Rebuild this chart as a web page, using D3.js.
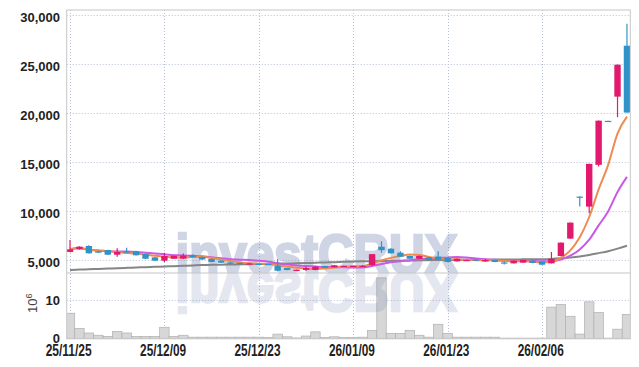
<!DOCTYPE html>
<html><head><meta charset="utf-8">
<script src="https://cdn.jsdelivr.net/npm/d3@7"></script>
<style>body{margin:0;background:#fff}svg{display:block}</style>
</head><body><svg id="c" width="639" height="367"></svg>
<script>
const dates = ["25/11/25","25/11/26","25/11/27","25/11/28","25/12/01","25/12/02","25/12/03","25/12/04","25/12/05","25/12/08",
"25/12/09","25/12/10","25/12/11","25/12/12","25/12/15","25/12/16","25/12/17","25/12/18","25/12/19","25/12/22",
"25/12/23","25/12/24","25/12/26","25/12/29","25/12/30","26/01/02","26/01/05","26/01/06","26/01/07","26/01/08",
"26/01/09","26/01/12","26/01/13","26/01/14","26/01/15","26/01/16","26/01/19","26/01/20","26/01/21","26/01/22",
"26/01/23","26/01/26","26/01/27","26/01/28","26/01/29","26/01/30","26/02/02","26/02/03","26/02/04","26/02/05",
"26/02/06","26/02/09","26/02/10","26/02/11","26/02/12","26/02/13","26/02/19","26/02/20","26/02/23","26/02/24"];
const opens = [5820,6090,6430,5890,6020,5540,5880,5890,5610,5270,
4930,5130,5150,5500,5300,5100,4950,4750,4700,4580,
4620,4600,4400,4180,3970,3990,3990,4390,4250,4300,
4320,4350,4460,6350,6150,5750,5410,5130,5270,5350,
5200,4860,4950,5050,4850,5000,4750,4660,4730,4930,
4860,4660,5410,7180,11460,10440,14700,19180,21650,26840];
const highs = [7050,6400,6500,5950,6050,6200,6260,5950,5650,5300,
5745,5450,5650,5550,5350,5150,4980,4800,4750,4700,
4650,4620,5130,4200,4020,4300,4350,4420,4480,4430,
4420,4500,5620,6900,6200,5900,5450,5450,5300,5880,
5250,5150,5050,5100,5100,5020,4850,4950,5020,4950,
4880,5816,6790,8830,11480,14820,19220,19200,24920,29080];
const lows = [5800,6050,5650,5720,5500,5340,5740,5450,5100,4900,
4800,5100,5100,5250,5000,4780,4700,4600,4580,4550,
4520,4520,3850,3950,3950,3900,3950,4180,4230,4280,
4300,4300,4440,5750,5650,5300,5100,5100,4980,4980,
4780,4840,4900,4900,4820,4780,4550,4640,4710,4680,
4480,4640,5390,7160,10440,9760,14520,19100,19560,20000];
const closes = [6090,6360,5680,5750,5540,5820,5760,5480,5130,4930,
5410,5410,5450,5300,5050,4800,4720,4620,4600,4650,
4560,4560,3910,3980,4000,4180,4320,4200,4460,4400,
4400,4400,5600,6000,5680,5340,5130,5410,5000,5050,
4800,5130,5000,4950,5000,4800,4700,4930,5000,4700,
4520,5130,6770,8810,11400,14800,19200,19130,24900,20030];
const volumes = [6.6,2.6,1.4,0.8,0.5,1.8,1.4,0.5,0.5,0.5,
2.9,0.5,0.8,0.3,0.3,0.3,0.3,0.3,0.3,0.3,
0.3,0.2,1.1,0.4,0.1,0.6,1.7,0.2,0.4,0.2,
0.2,0.3,2.1,15.9,1.3,1.3,2.1,0.8,0.3,3.7,
1.3,0.3,0.3,0.3,0.3,0.3,0.05,0.05,0.05,0.05,
0.05,8.2,8.9,5.8,1.1,9.6,6.8,0.05,2.4,6.3];
const ma60 = [3980,4020,4055,4090,4125,4160,4200,4235,4270,4305,
4340,4375,4410,4450,4490,4505,4525,4540,4560,4575,
4595,4610,4625,4645,4660,4690,4720,4750,4780,4810,
4840,4870,4885,4900,4915,4930,4950,4965,4985,5000,
5005,5010,5020,5025,5035,5040,5050,5055,5065,5070,
5080,5110,5170,5250,5360,5510,5700,5900,6160,6460];
const priceTicks = [5000,10000,15000,20000,25000,30000];
const volumeTicks = [0,10];
const dateTicks = ["25/11/25","25/12/09","25/12/23","26/01/09","26/01/23","26/02/06"];

const L = 66.7, R = 630.3, T = 10, M = 273, B = 338.8;
const svg = d3.select("#c");
const step = 9.44;
const x = d3.scaleBand().domain(dates).range([70 - step/2, 70 - step/2 + step*dates.length]).padding(0);
const cx = d => x(d) + x.bandwidth()/2;
const y = d3.scaleLinear().domain([5000,30000]).range([260,14.7]);
const yv = d3.scaleLinear().domain([0,10]).range([338.3,300.3]);

function sma(arr, n){ return arr.map((v,i)=>{ const s = arr.slice(Math.max(0,i-n+1), i+1); return d3.mean(s); }); }
const ma5 = sma(closes,5), ma10 = sma(closes,10);

const defs = svg.append("defs");
defs.append("clipPath").attr("id","cp").append("rect").attr("x",L).attr("y",T).attr("width",R-L).attr("height",M-T);
defs.append("clipPath").attr("id","cv").append("rect").attr("x",L).attr("y",M).attr("width",R-L).attr("height",B-M);

const gridColor = "#b7c1d6";
const grid = svg.append("g").attr("stroke",gridColor).attr("stroke-width",1).attr("stroke-dasharray","1,2");
grid.selectAll("line.v").data(dateTicks).join("line")
  .attr("x1",d=>Math.round(cx(d))+0.5).attr("x2",d=>Math.round(cx(d))+0.5).attr("y1",T).attr("y2",B);
grid.selectAll("line.h").data(priceTicks).join("line")
  .attr("x1",L).attr("x2",R).attr("y1",d=>Math.round(y(d))+0.5).attr("y2",d=>Math.round(y(d))+0.5);
grid.selectAll("line.hv").data(volumeTicks.filter(d=>d>0)).join("line")
  .attr("x1",L).attr("x2",R).attr("y1",d=>Math.round(yv(d))+0.5).attr("y2",d=>Math.round(yv(d))+0.5);

// volume bars
svg.append("g").attr("clip-path","url(#cv)").selectAll("rect").data(dates).join("rect")
  .attr("x",d=>x(d)).attr("width",x.bandwidth())
  .attr("y",(d,i)=>yv(volumes[i])).attr("height",(d,i)=>yv(0)-yv(volumes[i]))
  .attr("fill","#d7d7d7").attr("stroke","#b0b0b0").attr("stroke-width",0.7);

// watermark (heavy, semi-transparent, with mirrored reflection)
const wmFont = "'Liberation Sans', Arial, sans-serif";
function wm(parent, opacity, transform){
  parent.append("g").attr("opacity",opacity).append("text")
    .attr("transform",transform)
    .attr("x",175.5).attr("y",273).attr("font-family",wmFont).attr("font-weight","bold").attr("font-size",55)
    .attr("textLength",282).attr("lengthAdjust","spacingAndGlyphs")
    .attr("fill","rgb(98,118,165)").attr("stroke","rgb(98,118,165)").attr("stroke-width",2.6)
    .attr("stroke-linejoin","miter").text("investCRUX");
}
wm(svg.append("g").attr("clip-path","url(#cp)"), 0.3, null);
wm(svg.append("g").attr("clip-path","url(#cv)"), 0.17, "translate(0,546) scale(1,-1)");

// MA lines
const pane = svg.append("g").attr("clip-path","url(#cp)");
const line = d3.line().x((d,i)=>cx(dates[i])).y(d=>y(d)).curve(d3.curveMonotoneX);
pane.append("path").attr("d",line(ma60)).attr("fill","none").attr("stroke","#858585").attr("stroke-width",2);
pane.append("path").attr("d",line(ma10)).attr("fill","none").attr("stroke","#c95ae6").attr("stroke-width",2);
pane.append("path").attr("d",line(ma5)).attr("fill","none").attr("stroke","#ef8a50").attr("stroke-width",2);

// candles
const up = "#e2196e", down = "#2f93c7";
const cg = pane.append("g");
const bw = 6.4;
dates.forEach((d,i)=>{
  const col = closes[i] >= opens[i] ? up : down;
  const xc = cx(d);
  cg.append("line").attr("x1",xc).attr("x2",xc).attr("y1",y(highs[i])).attr("y2",y(lows[i]))
    .attr("stroke",col).attr("stroke-width",1.2);
  const top = y(Math.max(opens[i],closes[i])), bot = y(Math.min(opens[i],closes[i]));
  cg.append("rect").attr("x",xc-bw/2).attr("width",bw).attr("y",top).attr("height",Math.max(1.2,bot-top)).attr("fill",col);
});

// frame
svg.append("rect").attr("x",L).attr("y",T).attr("width",R-L).attr("height",B-T)
  .attr("fill","none").attr("stroke","#c6c6c6").attr("stroke-width",1);
svg.append("line").attr("x1",L).attr("x2",R).attr("y1",M).attr("y2",M).attr("stroke","#c6c6c6").attr("stroke-width",1.2);

// axes
const lblFont = "'Liberation Sans', Arial, sans-serif";
const ya = svg.append("g").attr("transform",`translate(${L},0)`)
  .call(d3.axisLeft(y).tickValues(priceTicks).tickFormat(d3.format(",")).tickSize(0).tickPadding(6.7));
ya.select(".domain").remove();
ya.selectAll("text").attr("font-family",lblFont).attr("font-weight","bold").attr("font-size",13).attr("fill","#222").attr("dy","0.5em");

const va = svg.append("g").attr("transform",`translate(${L},0)`)
  .call(d3.axisLeft(yv).tickValues(volumeTicks).tickFormat(d3.format("d")).tickSize(0).tickPadding(6.7));
va.select(".domain").remove();
va.selectAll("text").attr("font-family",lblFont).attr("font-weight","bold").attr("font-size",13).attr("fill","#222").attr("dy","0.34em");

const xa = svg.append("g").attr("transform",`translate(0,${B})`)
  .call(d3.axisBottom(x).tickValues(dateTicks).tickSize(0).tickPadding(5.5));
xa.select(".domain").remove();
xa.selectAll("text").attr("font-family",lblFont).attr("font-weight","bold").attr("font-size",16).attr("fill","#222")
  .attr("textLength",46).attr("lengthAdjust","spacingAndGlyphs").attr("dx",-1.3);

// 10^6 unit label
const u = svg.append("text").attr("transform","translate(37,313) rotate(-90)")
  .attr("font-family",lblFont).attr("font-size",13).attr("fill","#444");
u.append("tspan").text("10");
u.append("tspan").attr("dy",-5).attr("font-size",9).text("6");
</script>
</body></html>
